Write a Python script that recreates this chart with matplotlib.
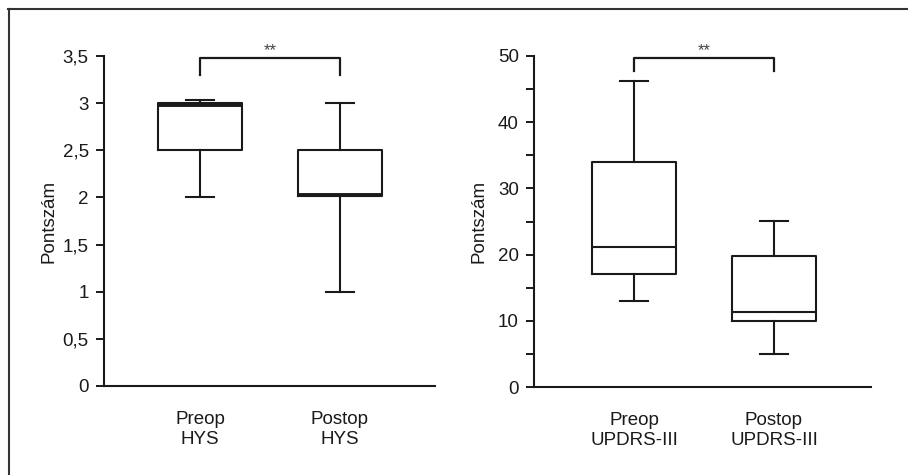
import matplotlib
matplotlib.use("Agg")
import matplotlib.pyplot as plt
from matplotlib.lines import Line2D

plt.rcParams['font.family'] = ['Liberation Sans', 'DejaVu Sans']

# Data
hys_labels = ["Preop\nHYS", "Postop\nHYS"]
hys_whislo = [2.0, 1.0]
hys_q1 = [2.5, 2.02]
hys_med = [2.985, 2.03]
hys_q3 = [3.0, 2.5]
hys_whishi = [3.03, 3.0]
hys_yticks = [0, 0.5, 1, 1.5, 2, 2.5, 3, 3.5]
hys_yticklabels = ["0", "0,5", "1", "1,5", "2", "2,5", "3", "3,5"]

upd_labels = ["Preop\nUPDRS-III", "Postop\nUPDRS-III"]
upd_whislo = [13.0, 5.0]
upd_q1 = [17.0, 10.0]
upd_med = [21.2, 11.4]
upd_q3 = [34.0, 19.8]
upd_whishi = [46.2, 25.1]
upd_yticks = [0, 10, 20, 30, 40, 50]
upd_minor = [5, 15, 25, 35, 45]

sig_text = "**"
ylabel = "Pontszám"

fig = plt.figure(figsize=(9.08, 4.75), dpi=100)
txt = '#1a1a1a'

def make(ax, labels, lo, q1, med, q3, hi, xlim, ylim, bracket, medlw, ylpad):
    stats = []
    for i in range(2):
        stats.append(dict(whislo=lo[i], q1=q1[i], med=med[i], q3=q3[i], whishi=hi[i], fliers=[]))
    lw = 1.5
    ax.bxp(stats, positions=[1, 2], widths=0.6, capwidths=0.2, showfliers=False,
           boxprops=dict(color=txt, linewidth=lw),
           whiskerprops=dict(color=txt, linewidth=lw),
           capprops=dict(color=txt, linewidth=lw),
           medianprops=dict(color=txt, linewidth=medlw))
    ax.set_xlim(*xlim)
    ax.set_ylim(*ylim)
    ax.set_xticks([1, 2])
    ax.set_xticklabels(labels, fontsize=13.5, color=txt, linespacing=1.2)
    ax.tick_params(axis='x', length=0, pad=18)
    ax.tick_params(axis='y', which='both', direction='out', length=6, width=1.4,
                   labelsize=13.5, labelcolor=txt, color=txt, pad=5)
    for s in ['top', 'right']:
        ax.spines[s].set_visible(False)
    for s in ['left', 'bottom']:
        ax.spines[s].set_linewidth(1.5)
        ax.spines[s].set_color(txt)
    ax.set_ylabel(ylabel, fontsize=13.5, color=txt, labelpad=ylpad)
    top, bot = bracket
    ax.plot([1, 1, 2, 2], [bot, top, top, bot], color=txt, lw=1.6, clip_on=False)
    ax.text(1.5, top, sig_text, ha='center', va='bottom', fontsize=12, color='#444444')

ax1 = fig.add_axes([104/908, 1-386/475, 331/908, 330/475])
make(ax1, hys_labels, hys_whislo, hys_q1, hys_med, hys_q3, hys_whishi,
     (0.314, 2.679), (0, 3.5), (3.48, 3.3), 2.8, 4)
ax1.set_yticks(hys_yticks)
ax1.set_yticklabels(hys_yticklabels)

ax2 = fig.add_axes([534/908, 1-387/475, 337/908, 331/475])
make(ax2, upd_labels, upd_whislo, upd_q1, upd_med, upd_q3, upd_whishi,
     (0.286, 2.693), (0, 50), (49.7, 47.7), 1.5, 7)
ax2.set_yticks(upd_yticks)
ax2.set_yticks(upd_minor, minor=True)

# outer frame (top and left)
fig.add_artist(Line2D([8/908, 1], [1-9/475, 1-9/475], color='#333333', lw=1.5))
fig.add_artist(Line2D([9/908, 9/908], [0, 1-9/475], color='#333333', lw=1.5))

fig.savefig("out.png", dpi=100)
